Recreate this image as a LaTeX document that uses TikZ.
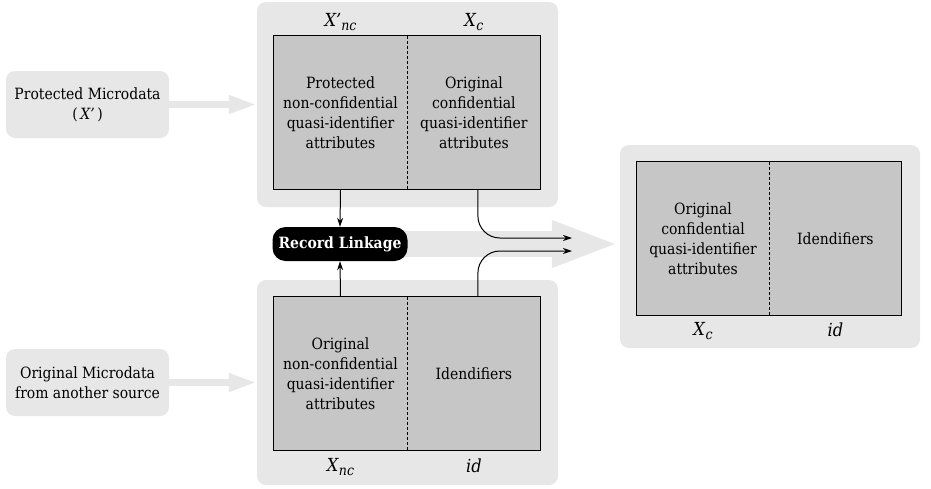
\documentclass[tikz,border=0pt]{standalone}
\usepackage{fontspec}
\setmainfont{DejaVu Serif Condensed}
\usetikzlibrary{positioning,arrows.meta,backgrounds}

\definecolor{panelgray}{RGB}{230,231,230}
\definecolor{cellgray}{RGB}{198,198,198}
\newcommand{\attr}[2]{\textit{#1}\raisebox{-0.4ex}{\fontsize{14}{14}\selectfont\textit{#2}}}

\begin{document}
\begin{tikzpicture}
[x=1pt, y=-1pt, font=\fontsize{15.5}{20}\selectfont,
panel/.style={fill=panelgray, rounded corners=9pt, inner sep=0pt},
source/.style={fill=panelgray, rounded corners=9pt, minimum width=163pt,
minimum height=67pt, align=center},
cell/.style={fill=cellgray, minimum width=133pt, minimum height=153pt,
text width=125pt, align=center, inner sep=0pt},
tag/.style={inner sep=0pt, font=\fontsize{18}{20}\selectfont},
linkage/.style={fill=black, text=white, rounded corners=13pt,
font=\fontsize{15.5}{20}\selectfont\bfseries, minimum width=135pt, minimum height=34pt},
feed/.style={draw=panelgray, line width=7pt, -{Triangle[length=28pt,width=17pt]}},
bigfeed/.style={draw=panelgray, line width=26pt, -{Triangle[length=68pt,width=42pt]}},
flow/.style={-{Stealth[length=9pt,width=6pt]}, line width=1pt, rounded corners=22pt},
divider/.style={line width=1pt, dash pattern=on 3pt off 2pt}]

\useasboundingbox (0,0) rectangle (931,488);

% Draw panels
\node [panel, minimum width=301pt, minimum height=205pt] (toppanel) at (407.5,104.5) {};
\node [panel, minimum width=301pt, minimum height=205pt] (botpanel) at (407.5,382.5) {};
\node [panel, minimum width=300pt, minimum height=203pt] (outpanel) at (770,246.5) {};

% Sources
\node [source] (protected) at (87.5,104.5) {Protected Microdata\\(\,\textit{X’}\,)};
\node [source] (original) at (87.5,382.5) {Original Microdata\\from another source};

% Tables
\node [cell] (tnc) at (340.5,112.5) {Protected\\non-confidential\\quasi-identifier\\attributes};
\node [cell, right=0pt of tnc] (tc) {Original\\confidential\\quasi-identifier\\attributes};
\node [cell] (bnc) at (340.5,373.5) {Original\\non-confidential\\quasi-identifier\\attributes};
\node [cell, right=0pt of bnc] (bid) {Idendifiers};
\node [cell, minimum width=132pt] (oc) at (703,238.5) {Original\\confidential\\quasi-identifier\\attributes};
\node [cell, minimum width=132pt, right=0pt of oc] (oid) {Idendifiers};

\foreach \l/\r in {tnc/tc, bnc/bid, oc/oid} {
  \draw[line width=1.2pt] (\l.north west) rectangle (\r.south east);
  \draw[divider] (\l.north east) -- (\l.south east);
}

% Labels
\node [tag, above=5pt of tnc] (lxnc) {\attr{X’}{nc}};
\node [tag, above=5pt of tc] (lxc) {\attr{X}{c}};
\node [tag, below=8pt of bnc] (lbxnc) {\attr{X}{nc}};
\node [tag, below=8pt of bid] (lbid) {\textit{id}};
\node [tag, below=7pt of oc] (loxc) {\attr{X}{c}};
\node [tag, below=7pt of oid] (loid) {\textit{id}};

% Record linkage
\node [linkage] (link) at (340,244) {Record Linkage};

\begin{scope}[on background layer]
\draw[bigfeed] (link.center) -- (link.center -| outpanel.west);
\end{scope}

\draw[feed] (protected.east) -- (protected.east -| toppanel.west);
\draw[feed] (original.east) -- (original.east -| botpanel.west);

\coordinate (cin) at (572,238);
\coordinate (idin) at (572,251);

\draw[flow] (tnc.south) -- (link.north);
\draw[flow] (bnc.north) -- (link.south);
\draw[flow] ([xshift=4pt]tc.south) |- (cin);
\draw[flow] ([xshift=4pt]bid.north) |- (idin);

\end{tikzpicture}
\end{document}
